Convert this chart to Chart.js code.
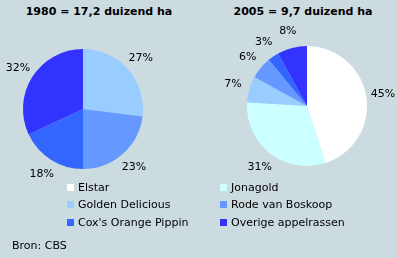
<!DOCTYPE html>
<html><head><meta charset="utf-8">
<script src="https://cdn.jsdelivr.net/npm/chart.js@4/dist/chart.umd.min.js"></script>
<style>
html,body{margin:0;padding:0;}
body{width:397px;height:258px;background:#CCDBE0;position:relative;overflow:hidden;font-family:"DejaVu Sans",Verdana,sans-serif;color:#000;}
.t{position:absolute;font-weight:bold;font-size:11px;line-height:14px;white-space:nowrap;transform:translateX(-50%);}
canvas{position:absolute;}
.lg{position:absolute;font-size:11px;line-height:13px;white-space:nowrap;}
.lg i{position:absolute;left:-11px;top:3px;width:7px;height:7px;}
#src{position:absolute;left:12px;top:239px;font-size:11px;line-height:13px;}
</style></head>
<body>
<div class="t" id="t1" style="left:99px;top:5px"></div>
<div class="t" id="t2" style="left:303px;top:5px"></div>
<canvas id="c1" width="200" height="200" style="left:0;top:0"></canvas>
<canvas id="c2" width="197" height="200" style="left:200px;top:0"></canvas>
<div id="legend"></div>
<div id="src">Bron: CBS</div>
<script>
const categories = ["Elstar","Jonagold","Golden Delicious","Rode van Boskoop","Cox's Orange Pippin","Overige appelrassen"];
const colors = ["#FFFFFF","#CCFFFF","#99CCFF","#6699FF","#3366FF","#3333FF"];
const titles = ["1980 = 17,2 duizend ha","2005 = 9,7 duizend ha"];
const values1980 = [0,0,27,23,18,32];
const values2005 = [45,31,7,6,3,8];

document.getElementById('t1').textContent = titles[0];
document.getElementById('t2').textContent = titles[1];

const lg = document.getElementById('legend');
const lx = [78,231], ly = [181,198,216];
categories.forEach((c,i)=>{
  const d = document.createElement('div');
  d.className='lg';
  d.style.left = lx[i%2]+'px';
  d.style.top = ly[Math.floor(i/2)]+'px';
  const b = document.createElement('i');
  b.style.background = colors[i];
  d.appendChild(b);
  d.appendChild(document.createTextNode(c));
  lg.appendChild(d);
});

const labelPlugin = {
  id:'pctLabels',
  afterDatasetsDraw(chart){
    const ctx = chart.ctx;
    const meta = chart.getDatasetMeta(0);
    const data = chart.data.datasets[0].data;
    ctx.save();
    ctx.font = '11px "DejaVu Sans"';
    ctx.fillStyle = '#000';
    ctx.textAlign = 'center';
    ctx.textBaseline = 'middle';
    meta.data.forEach((arc,i)=>{
      if(!data[i]) return;
      const p = arc.getProps(['x','y','startAngle','endAngle','outerRadius'],true);
      const mid = (p.startAngle+p.endAngle)/2;
      const r = p.outerRadius + 17;
      ctx.fillText(data[i]+'%', p.x + Math.cos(mid)*r, p.y + Math.sin(mid)*r);
    });
    ctx.restore();
  }
};

function makePie(id, values, pad){
  new Chart(document.getElementById(id), {
    type:'pie',
    data:{labels:categories, datasets:[{data:values, backgroundColor:colors, borderWidth:0}]},
    options:{
      responsive:false, animation:false, devicePixelRatio:1,
      layout:{padding:pad},
      plugins:{legend:{display:false}, tooltip:{enabled:false}, title:{display:false}}
    },
    plugins:[labelPlugin]
  });
}
makePie('c1', values1980, {left:23,right:57,top:49,bottom:31});
makePie('c2', values2005, {left:47,right:30,top:46,bottom:34});
</script>
</body></html>
